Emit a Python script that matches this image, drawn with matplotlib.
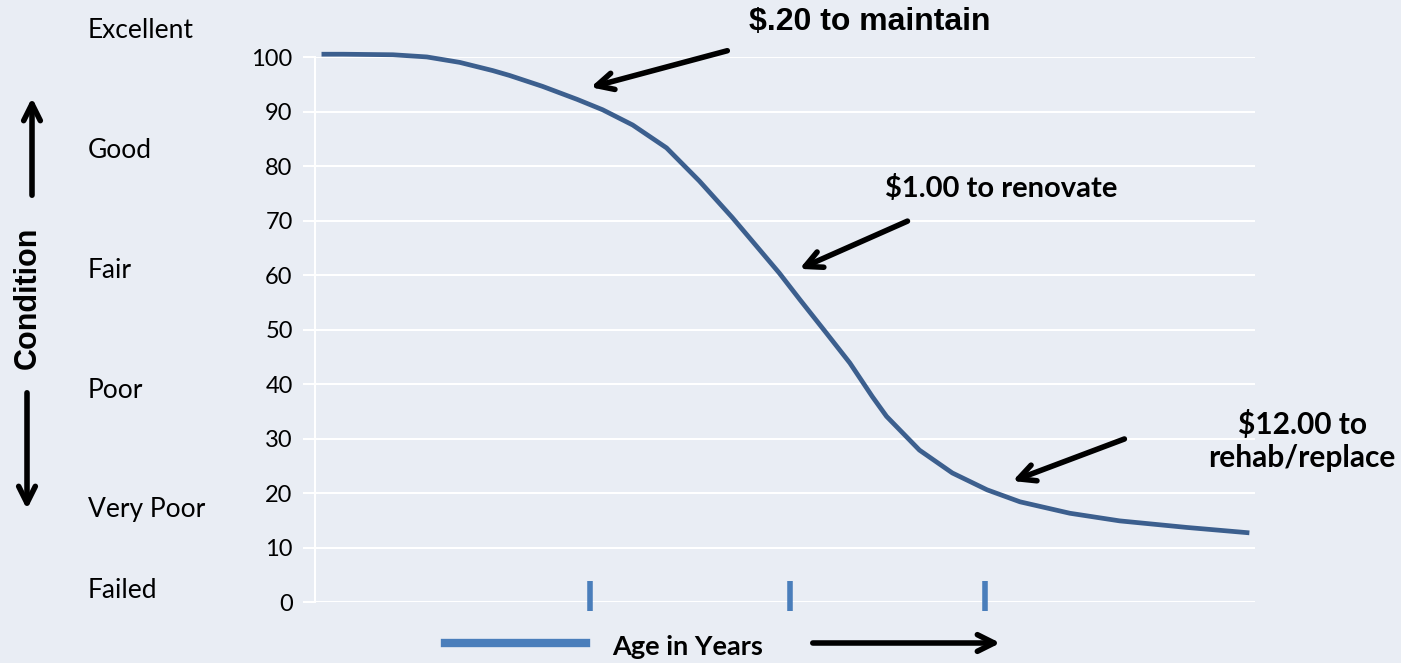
import matplotlib.pyplot as plt
from matplotlib.patches import FancyArrowPatch

# condition curve (age on a 0-100 scale, condition score)
age = [0.7, 3.0, 8.3, 11.9, 15.4, 18.9, 20.7, 24.2, 27.9, 30.6, 33.8, 37.4, 40.9,
       44.4, 47.0, 49.4, 51.6, 54.4, 56.9, 59.3, 60.8, 64.3, 67.8, 71.5, 75.0,
       80.3, 85.6, 92.7, 99.4]
condition = [100.6, 100.6, 100.5, 100.1, 99.1, 97.6, 96.7, 94.7, 92.3, 90.4, 87.6,
             83.4, 77.3, 70.6, 65.3, 60.4, 55.5, 49.4, 43.9, 37.7, 34.1, 27.9, 23.7,
             20.6, 18.4, 16.3, 14.9, 13.7, 12.7]

# blue markers on the age axis
marker_age = [29.3, 50.5, 71.3]

yticks = list(range(0, 101, 10))
condition_labels = ['Excellent', 'Good', 'Fair', 'Poor', 'Very Poor', 'Failed']

bg = '#E9EDF4'
curve_col = '#3C5F8E'
mark_col = '#4A7EBB'

plt.rcParams['font.family'] = ['Lato', 'DejaVu Sans']

W, H = 1401, 663
fig = plt.figure(figsize=(W / 100, H / 100), dpi=100, facecolor=bg)
ax = fig.add_axes([0.2248, 0.092, 0.671, 0.8213], facecolor=bg)

ax.plot(age, condition, color=curve_col, lw=3.4, clip_on=False, zorder=3,
        solid_joinstyle='round', solid_capstyle='butt')
ax.vlines(marker_age, -1.6, 3.9, color=mark_col, lw=4, clip_on=False, zorder=3)

ax.set_xlim(0, 100)
ax.set_ylim(0, 100)
ax.set_yticks(yticks)
ax.set_xticks([])
ax.tick_params(axis='y', labelsize=17, length=9, width=1.5, color='white', pad=7)
ax.grid(axis='y', color='white', lw=1.5)
ax.set_axisbelow(True)
for s in ['top', 'right', 'bottom']:
    ax.spines[s].set_visible(False)
ax.spines['left'].set_color('white')
ax.spines['left'].set_linewidth(1.5)


def fx(px):
    return px / W


def fy(py):
    return 1 - py / H


arrow = dict(arrowstyle='->', lw=4, color='black', mutation_scale=30)


def arr(p0, p1):
    fig.add_artist(FancyArrowPatch((fx(p0[0]), fy(p0[1])), (fx(p1[0]), fy(p1[1])),
                                   transform=fig.transFigure, **arrow))


# condition category labels on the far left
label_y = [30, 150, 270, 390, 510, 590]
for lab, py in zip(condition_labels, label_y):
    fig.text(fx(88), fy(py), lab, fontsize=19, ha='left', va='center')

fig.text(fx(28), fy(298), 'Condition', fontsize=22, fontweight='bold',
         rotation=90, ha='center', va='center', family=['Liberation Sans'])
arr((32, 198), (32, 95))
arr((27, 390), (27, 512))

# age axis legend-like title
fig.add_artist(plt.Line2D([fx(445), fx(586)], [fy(643), fy(643)],
                          color=mark_col, lw=6, transform=fig.transFigure))
fig.text(fx(688), fy(647), 'Age in Years', fontsize=19.5, fontweight='bold',
         ha='center', va='center')
arr((810, 643), (1003, 643))

# cost annotations
notes = [
    ('$.20 to maintain', (870, 22), (730, 50), (588, 88), 23, ['Liberation Sans']),
    ('$1.00 to renovate', (1001, 188), (910, 220), (797, 270), 21, ['Lato']),
    ('$12.00 to\nrehab/replace', (1302, 441), (1127, 438), (1010, 482), 21.5, ['Lato']),
]
for text, tp, p0, p1, size, fam in notes:
    fig.text(fx(tp[0]), fy(tp[1]), text, fontsize=size, fontweight='bold',
             ha='center', va='center', family=fam, linespacing=1.2)
    arr(p0, p1)

fig.savefig('out.png', dpi=100, facecolor=bg)
